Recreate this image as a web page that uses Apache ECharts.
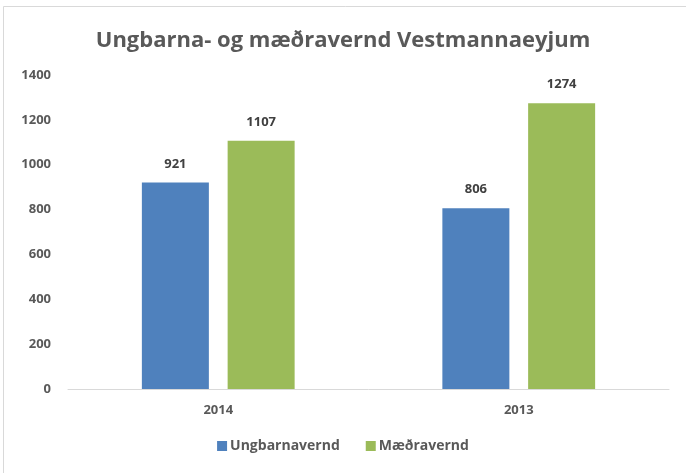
<!DOCTYPE html>
<html lang="is" style="height: 100%">
<head>
  <meta charset="utf-8">
</head>
<body style="height: 100%; margin: 0; background-color: #fff">
  <div id="container" style="width: 686px; height: 473px"></div>

  <script src="https://cdn.jsdelivr.net/npm/echarts@6/dist/echarts.min.js"></script>
  <script>
    // gögn
    var years = ['2014', '2013'];
    var ungbarnavernd = [921, 806];
    var maedravernd = [1107, 1274];

    var chart = echarts.init(document.getElementById('container'), null, { renderer: 'canvas' });

    var font = '"Open Sans", "Noto Sans", sans-serif';

    var option = {
      backgroundColor: '#fff',
      textStyle: { fontFamily: font },
      graphic: [{
        type: 'rect',
        shape: { x: 3.5, y: 6.5, width: 700, height: 500 },
        style: { fill: 'none', stroke: '#d9d9d9', lineWidth: 1 },
        silent: true
      }],
      title: {
        text: 'Ungbarna- og mæðravernd Vestmannaeyjum',
        left: 'center',
        top: 25,
        textStyle: { fontFamily: font, fontSize: 22, fontWeight: 'bold', color: '#595959' }
      },
      legend: {
        bottom: 15,
        left: 'center',
        itemWidth: 10,
        itemHeight: 10,
        itemGap: 26,
        icon: 'rect',
        textStyle: { fontFamily: font, fontSize: 14, fontWeight: 'bold', color: '#595959', padding: [0, 0, 0, -2] },
        data: ['Ungbarnavernd', 'Mæðravernd']
      },
      grid: { left: 68, right: 17, top: 75, bottom: 84 },
      xAxis: {
        type: 'category',
        data: years,
        axisLine: { lineStyle: { color: '#d9d9d9' } },
        axisTick: { show: false },
        axisLabel: { fontFamily: font, fontSize: 13, fontWeight: 'bold', color: '#595959', margin: 15 }
      },
      yAxis: {
        type: 'value',
        min: 0,
        max: 1400,
        interval: 200,
        splitLine: { show: false },
        axisLine: { show: false },
        axisTick: { show: false },
        axisLabel: {
          fontFamily: font, fontSize: 13, fontWeight: 'bold', color: '#595959', margin: 17,
          formatter: function (v) { return String(v); }
        }
      },
      series: [{
        name: 'Ungbarnavernd',
        type: 'bar',
        data: ungbarnavernd,
        barWidth: 67,
        barGap: '28%',
        itemStyle: { color: '#4f81bd' },
        label: { show: true, position: 'top', distance: 12, fontFamily: font, fontSize: 13, fontWeight: 'bold', color: '#404040' }
      }, {
        name: 'Mæðravernd',
        type: 'bar',
        data: maedravernd,
        barWidth: 67,
        itemStyle: { color: '#9bbb59' },
        label: { show: true, position: 'top', distance: 12, fontFamily: font, fontSize: 13, fontWeight: 'bold', color: '#404040' }
      }]
    };

    chart.setOption(option);
    window.addEventListener('resize', chart.resize);
  </script>
</body>
</html>
